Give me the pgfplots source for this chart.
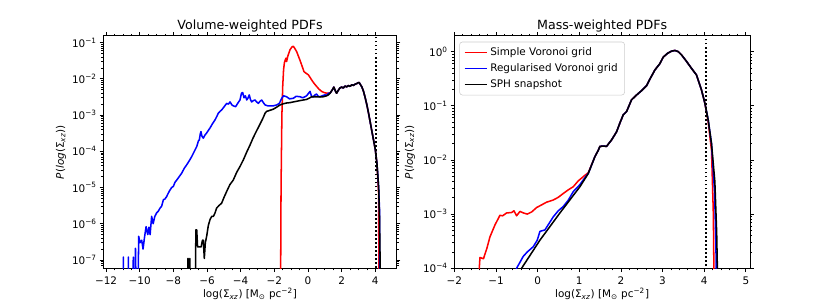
\documentclass[border=0pt]{standalone}
\usepackage{fontspec}
\setmainfont{DejaVu Sans}
\usepackage{pgfplots}
\pgfplotsset{compat=1.18}

\pgfplotsset{
  every axis/.append style={
    scale only axis,
    tick align=outside,
    major tick length=2.7pt,
    minor tick length=1.5pt,
    every tick/.style={black, line width=0.55pt},
    every minor tick/.style={black, line width=0.45pt},
    axis line style={line width=0.6pt},
    tick label style={font=\fontsize{7.5}{9}\selectfont},
    yticklabel style={xshift=1.5pt},
    label style={font=\fontsize{7.5}{9}\selectfont},
    title style={font=\fontsize{9.1}{11}\selectfont, at={(0.5,1)}, anchor=base, yshift=-1.7pt},
    xlabel style={at={(axis description cs:0.5,0)}, anchor=base, yshift=-21.4pt},
    xlabel={log(Σ\textsubscript{\textit{xz}}) [M\textsubscript{⊙} pc\textsuperscript{−2}]},
    ylabel={\textit{P}(\textit{log}(Σ\textsubscript{\textit{xz}}))},
  },
  every axis plot/.append style={line width=1.1pt, line join=round},
}

\begin{document}
\begin{tikzpicture}
\useasboundingbox (0,0) rectangle (597.6pt,217.44pt);

% ---------------- Volume-weighted ----------------
\begin{axis}[ymode=log,
  at={(74.4pt,24.3pt)}, anchor=south west,
  width=211.2pt, height=167.3pt,
  title={Volume-weighted PDFs},
  ylabel style={at={(axis description cs:-0.144,0.5)}, anchor=center},
  xmin=-12.16, xmax=5.27,
  ymin=5.9e-8, ymax=0.153,
  xtick={-12,-10,-8,-6,-4,-2,0,2,4},
  xticklabels={−12,−10,−8,−6,−4,−2,0,2,4},
  minor x tick num=3,
  ytick={1e-7,1e-6,1e-5,1e-4,1e-3,1e-2,1e-1},
  yticklabels={10\textsuperscript{−7},10\textsuperscript{−6},10\textsuperscript{−5},10\textsuperscript{−4},10\textsuperscript{−3},10\textsuperscript{−2},10\textsuperscript{−1}},
  minor ytick={7e-8,8e-8,9e-8,
    2e-7,3e-7,4e-7,5e-7,6e-7,7e-7,8e-7,9e-7,
    2e-6,3e-6,4e-6,5e-6,6e-6,7e-6,8e-6,9e-6,
    2e-5,3e-5,4e-5,5e-5,6e-5,7e-5,8e-5,9e-5,
    2e-4,3e-4,4e-4,5e-4,6e-4,7e-4,8e-4,9e-4,
    2e-3,3e-3,4e-3,5e-3,6e-3,7e-3,8e-3,9e-3,
    2e-2,3e-2,4e-2,5e-2,6e-2,7e-2,8e-2,9e-2},
]
% Simple Voronoi grid
\addplot[red] coordinates {
(-1.64,1e-9) (-1.60,1e-5) (-1.55,1e-3) (-1.50,6.3e-3) (-1.45,1.78e-2) (-1.40,2.8e-2)
(-1.35,3.3e-2) (-1.31,3.7e-2) (-1.27,3.0e-2) (-1.20,4.2e-2) (-1.07,6.3e-2) (-0.95,7.6e-2)
(-0.87,7.9e-2) (-0.80,7.1e-2) (-0.67,5.6e-2) (-0.55,4.0e-2) (-0.48,3.3e-2) (-0.35,2.24e-2)
(-0.24,1.58e-2) (-0.10,1.41e-2) (0.02,1.29e-2) (0.12,1.10e-2) (0.22,9.3e-3) (0.35,7.6e-3)
(0.51,6.2e-3) (0.65,5.2e-3) (0.81,4.5e-3) (0.95,4.2e-3) (1.11,4.0e-3) (1.25,4.0e-3)
(1.31,4.0e-3) (1.45,5.0e-3) (1.54,5.9e-3) (1.62,4.7e-3) (1.70,4.0e-3) (1.80,4.8e-3)
(1.90,5.6e-3) (2.00,5.9e-3) (2.10,5.6e-3) (2.20,6.3e-3) (2.30,6.0e-3) (2.40,6.5e-3)
(2.50,6.2e-3) (2.60,6.8e-3) (2.70,6.6e-3) (2.80,7.1e-3) (2.90,7.4e-3) (3.00,7.9e-3)
(3.05,7.8e-3) (3.10,7.1e-3) (3.20,6.0e-3) (3.30,4.5e-3) (3.40,3.0e-3) (3.50,1.9e-3)
(3.60,1.12e-3) (3.70,6.3e-4) (3.80,3.5e-4) (3.90,2.0e-4) (4.00,1.12e-4) (4.10,4.5e-5)
(4.20,6.3e-6) (4.22,1e-9)
};
% Regularised Voronoi grid
\addplot[blue] coordinates {
(-11.00,1e-9) (-10.97,1.2e-7) (-10.94,1e-9) (-10.70,1e-9) (-10.67,1.2e-7) (-10.64,1e-9)
(-10.42,1e-9) (-10.38,1.2e-7) (-10.34,1e-9) (-10.30,1e-9) (-10.25,2.1e-7) (-10.18,1e-9)
(-10.12,1e-9) (-10.06,4.5e-7) (-9.98,3.0e-7) (-9.88,3.5e-7) (-9.80,2.0e-7) (-9.72,4.0e-7)
(-9.62,8.3e-7) (-9.52,5.0e-7) (-9.45,8.0e-7) (-9.38,5.0e-7) (-9.29,1.6e-6) (-9.20,1.0e-6)
(-9.10,1.6e-6) (-8.99,2.0e-6) (-8.90,2.2e-6) (-8.79,2.7e-6) (-8.70,3.0e-6) (-8.59,4.6e-6)
(-8.50,4.8e-6) (-8.40,5.6e-6) (-8.30,7.0e-6) (-8.20,8.5e-6) (-8.10,1.0e-5) (-8.00,1.07e-5)
(-7.90,1.4e-5) (-7.80,1.6e-5) (-7.65,2.0e-5) (-7.50,2.5e-5) (-7.35,3.4e-5) (-7.21,4.2e-5)
(-7.05,5.5e-5) (-6.91,7.1e-5) (-6.75,1.0e-4) (-6.61,1.35e-4) (-6.50,2.0e-4) (-6.46,2.0e-4)
(-6.40,3.0e-4) (-6.36,3.5e-4) (-6.30,2.6e-4) (-6.22,2.3e-4) (-6.12,2.8e-4) (-6.02,3.2e-4)
(-5.82,4.4e-4) (-5.67,5.8e-4) (-5.52,7.4e-4) (-5.40,9.5e-4) (-5.33,1.12e-3) (-5.20,1.3e-3)
(-5.13,1.38e-3) (-4.98,1.7e-3) (-4.83,2.1e-3) (-4.73,2.0e-3) (-4.63,2.3e-3) (-4.52,1.9e-3)
(-4.44,1.8e-3) (-4.30,1.7e-3) (-4.15,2.2e-3) (-4.04,2.6e-3) (-3.95,4.0e-3) (-3.88,4.2e-3)
(-3.80,3.0e-3) (-3.72,3.4e-3) (-3.64,2.6e-3) (-3.57,2.9e-3) (-3.49,3.6e-3) (-3.42,2.7e-3)
(-3.35,2.3e-3) (-3.25,2.5e-3) (-3.15,2.6e-3) (-3.05,2.3e-3) (-2.95,2.1e-3) (-2.85,2.4e-3)
(-2.75,2.6e-3) (-2.65,2.2e-3) (-2.55,1.9e-3) (-2.40,1.8e-3) (-2.26,1.8e-3) (-2.05,1.8e-3)
(-1.86,1.9e-3) (-1.70,2.1e-3) (-1.56,2.9e-3) (-1.45,3.4e-3) (-1.27,3.2e-3) (-1.10,2.8e-3)
(-0.87,2.9e-3) (-0.70,3.3e-3) (-0.48,3.2e-3) (-0.30,3.0e-3) (-0.08,3.4e-3) (0.12,4.5e-3)
(0.22,3.2e-3) (0.32,3.2e-3) (0.42,3.6e-3) (0.51,3.8e-3) (0.61,3.3e-3) (0.71,3.2e-3)
(0.85,3.4e-3) (1.01,3.6e-3) (1.11,3.5e-3) (1.21,4.0e-3)
(1.31,4.0e-3) (1.45,5.0e-3) (1.54,5.9e-3) (1.62,4.7e-3) (1.70,4.0e-3) (1.80,4.8e-3)
(1.90,5.6e-3) (2.00,5.9e-3) (2.10,5.6e-3) (2.20,6.3e-3) (2.30,6.0e-3) (2.40,6.5e-3)
(2.50,6.2e-3) (2.60,6.8e-3) (2.70,6.6e-3) (2.80,7.1e-3) (2.90,7.4e-3) (3.00,7.9e-3)
(3.05,7.8e-3) (3.10,7.1e-3) (3.20,6.0e-3) (3.30,4.5e-3) (3.40,3.0e-3) (3.50,1.9e-3)
(3.60,1.12e-3) (3.70,6.3e-4) (3.80,3.5e-4) (3.90,2.0e-4) (4.00,1.12e-4) (4.10,4.5e-5)
(4.20,1e-5) (4.25,2.5e-6) (4.28,1e-9)
};
% SPH snapshot
\addplot[black] coordinates {
(-7.16,1e-9) (-7.13,1.1e-7) (-7.08,1e-9) (-7.05,1e-9) (-7.02,1.1e-7) (-6.98,1e-9)
(-6.72,1e-9) (-6.66,6.8e-7) (-6.61,6.8e-7) (-6.56,2.3e-7) (-6.45,2.3e-7) (-6.35,2.3e-7)
(-6.27,3.5e-7) (-6.22,3.5e-7) (-6.16,1.1e-7) (-6.10,3.0e-7) (-6.02,4.5e-7) (-5.92,9.0e-7)
(-5.82,1.3e-6) (-5.72,1.6e-6) (-5.62,1.6e-6) (-5.52,2.0e-6) (-5.43,2.7e-6) (-5.28,3.2e-6)
(-5.13,3.7e-6) (-5.00,5.2e-6) (-4.83,7.8e-6) (-4.64,1.2e-5) (-4.44,1.6e-5) (-4.24,2.6e-5)
(-4.04,3.8e-5) (-3.84,5.8e-5) (-3.64,9.5e-5) (-3.44,1.5e-4) (-3.25,2.4e-4) (-3.05,3.7e-4)
(-2.85,5.6e-4) (-2.65,8.7e-4) (-2.55,1.12e-3) (-2.46,1.26e-3) (-2.26,1.35e-3) (-2.06,1.45e-3)
(-1.86,1.65e-3) (-1.66,1.9e-3) (-1.46,2.05e-3) (-1.27,2.15e-3) (-1.07,2.2e-3) (-0.87,2.3e-3)
(-0.67,2.4e-3) (-0.48,2.5e-3) (-0.28,2.6e-3) (-0.08,2.7e-3) (0.12,3.0e-3) (0.22,3.2e-3)
(0.50,3.2e-3) (0.71,3.15e-3) (0.91,3.2e-3) (1.11,3.4e-3) (1.21,3.6e-3)
(1.31,4.0e-3) (1.45,5.0e-3) (1.54,5.9e-3) (1.62,4.7e-3) (1.70,4.0e-3) (1.80,4.8e-3)
(1.90,5.6e-3) (2.00,5.9e-3) (2.10,5.6e-3) (2.20,6.3e-3) (2.30,6.0e-3) (2.40,6.5e-3)
(2.50,6.2e-3) (2.60,6.8e-3) (2.70,6.6e-3) (2.80,7.1e-3) (2.90,7.4e-3) (3.00,7.9e-3)
(3.05,7.8e-3) (3.10,7.1e-3) (3.20,6.0e-3) (3.30,4.5e-3) (3.40,3.0e-3) (3.50,1.9e-3)
(3.60,1.12e-3) (3.70,6.3e-4) (3.80,3.5e-4) (3.90,2.0e-4) (4.00,1.12e-4) (4.10,4.5e-5)
(4.20,1e-5) (4.25,1.6e-6) (4.30,3.2e-8) (4.33,1e-9)
};
\addplot[black, line width=1.3pt, dash pattern=on 1.3pt off 1.6pt, line cap=butt] coordinates {(4.05,1e-9) (4.05,10)};
\end{axis}

% ---------------- Mass-weighted ----------------
\begin{axis}[ymode=log,
  at={(327.1pt,24.3pt)}, anchor=south west,
  width=212.9pt, height=167.3pt,
  title={Mass-weighted PDFs},
  ylabel style={at={(axis description cs:-0.150,0.5)}, anchor=center},
  xmin=-2, xmax=5.1,
  ymin=1e-4, ymax=1.95,
  xtick={-2,-1,0,1,2,3,4,5},
  xticklabels={−2,−1,0,1,2,3,4,5},
  minor x tick num=4,
  ytick={1e-4,1e-3,1e-2,1e-1,1},
  yticklabels={10\textsuperscript{−4},10\textsuperscript{−3},10\textsuperscript{−2},10\textsuperscript{−1},10\textsuperscript{0}},
  minor ytick={2e-4,3e-4,4e-4,5e-4,6e-4,7e-4,8e-4,9e-4,
    2e-3,3e-3,4e-3,5e-3,6e-3,7e-3,8e-3,9e-3,
    2e-2,3e-2,4e-2,5e-2,6e-2,7e-2,8e-2,9e-2,
    0.2,0.3,0.4,0.5,0.6,0.7,0.8,0.9},
  legend style={at={(0.017,0.975)}, anchor=north west, draw=black!20,
    rounded corners=2pt, font=\fontsize{7.5}{9}\selectfont,
    inner xsep=3pt, inner ysep=2pt, row sep=0.3pt},
  legend cell align=left,
  legend image code/.code={\draw[#1, line width=1.1pt] (0pt,0pt) -- (16pt,0pt);},
]
\addplot[red] coordinates {
(-1.43,5e-5) (-1.40,1e-4) (-1.384,1.58e-4) (-1.30,1.5e-4) (-1.22,2.3e-4) (-1.144,3.8e-4)
(-1.024,6.3e-4) (-0.904,9.5e-4) (-0.84,9.3e-4) (-0.744,1.05e-3) (-0.624,1.07e-3)
(-0.568,1.15e-3) (-0.504,9.3e-4) (-0.424,1.12e-3) (-0.34,1.05e-3) (-0.248,1.0e-3)
(-0.14,1.1e-3) (-0.024,1.32e-3) (0.096,1.48e-3) (0.216,1.66e-3) (0.376,1.82e-3)
(0.496,2.04e-3) (0.616,2.4e-3) (0.736,2.8e-3) (0.856,3.2e-3) (0.976,4.1e-3) (1.136,5.2e-3)
(1.216,5.8e-3) (1.376,1.15e-2) (1.456,1.5e-2) (1.496,1.78e-2) (1.576,1.8e-2) (1.656,1.78e-2)
(1.776,2.34e-2) (1.896,3.3e-2) (1.976,4.8e-2) (2.056,6.8e-2) (2.136,7.8e-2) (2.256,0.129)
(2.376,0.158) (2.496,0.19) (2.616,0.234) (2.696,0.31) (2.816,0.457) (2.936,0.60)
(3.016,0.79) (3.12,0.93) (3.216,1.02) (3.296,1.05) (3.376,1.0) (3.456,0.87) (3.576,0.66)
(3.696,0.49) (3.816,0.37) (3.936,0.195) (4.016,0.112) (4.096,0.05) (4.176,1.5e-2)
(4.22,1e-3) (4.24,3e-5)
};
\addlegendentry{Simple Voronoi grid}
\addplot[blue] coordinates {
(-0.55,8e-5) (-0.504,1e-4) (-0.344,1.66e-4) (-0.248,2.0e-4) (-0.104,2.5e-4) (-0.008,3.3e-4)
(0.056,4.8e-4) (0.176,5.1e-4) (0.376,8.9e-4) (0.496,1.15e-3) (0.616,1.38e-3) (0.736,1.8e-3)
(0.856,2.6e-3) (1.016,3.5e-3) (1.176,5.2e-3)
(1.216,5.6e-3) (1.376,1.15e-2) (1.456,1.5e-2) (1.496,1.78e-2) (1.576,1.8e-2) (1.656,1.78e-2)
(1.776,2.34e-2) (1.896,3.3e-2) (1.976,4.8e-2) (2.056,6.8e-2) (2.136,7.8e-2) (2.256,0.129)
(2.376,0.158) (2.496,0.19) (2.616,0.234) (2.696,0.31) (2.816,0.457) (2.936,0.60)
(3.016,0.79) (3.12,0.93) (3.216,1.02) (3.296,1.05) (3.376,1.0) (3.456,0.87) (3.576,0.66)
(3.696,0.49) (3.816,0.37) (3.936,0.195) (4.016,0.112) (4.096,0.055) (4.176,2.0e-2)
(4.25,2.5e-3) (4.28,3e-4) (4.30,3e-5)
};
\addlegendentry{Regularised Voronoi grid}
\addplot[black] coordinates {
(-0.40,8.5e-5) (-0.384,1e-4) (0.056,3.3e-4) (0.536,1.05e-3) (1.016,3.2e-3)
(1.216,5.6e-3) (1.376,1.15e-2) (1.456,1.5e-2) (1.496,1.78e-2) (1.576,1.8e-2) (1.656,1.78e-2)
(1.776,2.34e-2) (1.896,3.3e-2) (1.976,4.8e-2) (2.056,6.8e-2) (2.136,7.8e-2) (2.256,0.129)
(2.376,0.158) (2.496,0.19) (2.616,0.234) (2.696,0.31) (2.816,0.457) (2.936,0.60)
(3.016,0.79) (3.12,0.93) (3.216,1.02) (3.296,1.05) (3.376,1.0) (3.456,0.87) (3.576,0.66)
(3.696,0.49) (3.816,0.37) (3.936,0.195) (4.016,0.112) (4.096,0.055) (4.176,2.0e-2)
(4.256,4e-3) (4.30,4.5e-4) (4.33,3e-5)
};
\addlegendentry{SPH snapshot}
\addplot[black, line width=1.3pt, dash pattern=on 1.3pt off 1.6pt, line cap=butt, forget plot] coordinates {(4.05,1e-5) (4.05,10)};
\end{axis}
\end{tikzpicture}
\end{document}
